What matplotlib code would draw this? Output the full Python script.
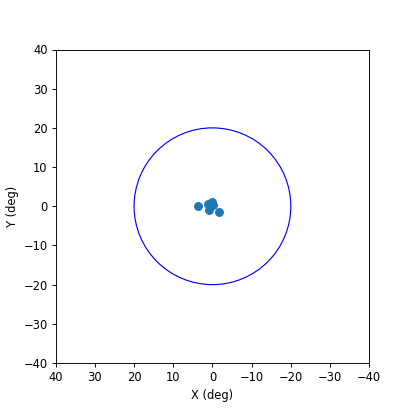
import matplotlib
matplotlib.use("Agg")
import matplotlib.pyplot as plt

# source positions (deg)
x_pos = [3.6, 0.6, 0.2, -1.7, 1.0, 1.1, -0.2, 0.4]
y_pos = [0.0, -0.2, 1.1, -1.5, -1.0, 0.5, 0.2, 0.6]

fov_radius = 20

fig = plt.figure(figsize=(5, 5), dpi=83)
ax = fig.add_axes([55.7 / 415, 1 - 363 / 415, 313.5 / 415, 313.5 / 415])

circle = plt.Circle((0, 0), fov_radius, color='blue', fill=False)
ax.add_patch(circle)
ax.scatter(x_pos, y_pos, s=45)

ax.set_xlim(40, -40)
ax.set_ylim(-40, 40)
ax.set_xticks(range(40, -41, -10))
ax.set_yticks(range(-40, 41, 10))
ax.set_aspect('equal')
ax.set_xlabel('X (deg)')
ax.set_ylabel('Y (deg)')

fig.savefig('out.png', dpi=83)
